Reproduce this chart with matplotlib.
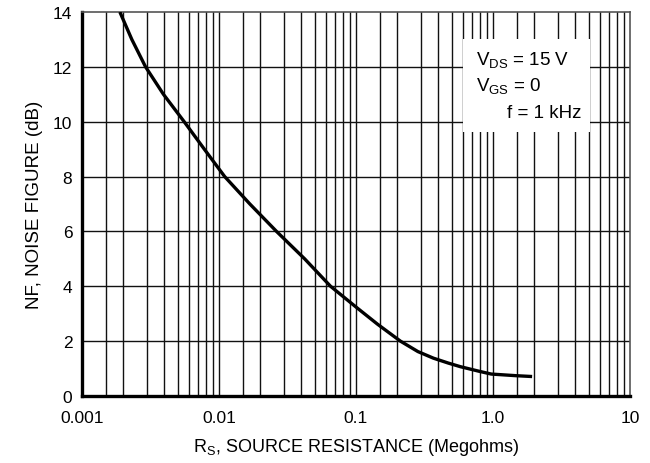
import numpy as np
import matplotlib
matplotlib.use("Agg")
import matplotlib.pyplot as plt
from matplotlib.patches import Rectangle

plt.rcParams['font.family'] = ['Liberation Sans', 'DejaVu Sans']
plt.rcParams['mathtext.fontset'] = 'custom'
plt.rcParams['mathtext.rm'] = 'Liberation Sans'
plt.rcParams['mathtext.it'] = 'Liberation Sans'

# source resistance (Megohms) and noise figure (dB)
rs = [0.00189, 0.00231, 0.00291, 0.00393, 0.00557, 0.00781, 0.0110, 0.0168,
      0.0263, 0.0422, 0.0652, 0.1008, 0.1434, 0.211, 0.283, 0.367, 0.472,
      0.577, 0.794, 0.971, 1.48, 1.93]
nf = [14.0, 13.0, 12.0, 11.0, 10.0, 9.0, 8.0, 7.0,
      6.0, 5.0, 4.0, 3.23, 2.62, 2.0, 1.62, 1.38, 1.20,
      1.07, 0.90, 0.80, 0.74, 0.71]

x_ticks = [0.001, 0.01, 0.1, 1.0, 10]
x_labels = ['0.001', '0.01', '0.1', '1.0', '10']
y_ticks = [0, 2, 4, 6, 8, 10, 12, 14]
grid_steps = [1.5, 2, 3, 4, 5, 6, 7, 8, 9]

fig = plt.figure(figsize=(6.5, 4.64), dpi=100)
ax = fig.add_axes([82 / 650, (464 - 397) / 464, 548 / 650, 384 / 464])

ax.set_xscale('log')
ax.set_xlim(0.001, 10)
ax.set_ylim(0, 14)

# grid: decade lines plus 1.5, 2 ... 9 in each decade, every 2 dB
for dec in [0.001, 0.01, 0.1, 1.0]:
    for k in grid_steps:
        ax.axvline(dec * k, color='#111111', lw=1.0, zorder=1)
    if dec > 0.001:
        ax.axvline(dec, color='#111111', lw=1.0, zorder=1)
for yv in y_ticks[1:-1]:
    ax.axhline(yv, color='#111111', lw=1.0, zorder=1)

# white box behind the conditions text
ax.add_patch(Rectangle((0.695, 0.6875), 0.232, 0.2425, transform=ax.transAxes,
                       facecolor='white', edgecolor='none', zorder=2))
ax.text(0.719, 0.8646, r'V$_{\mathrm{DS}}$ = 15 V', transform=ax.transAxes,
        fontsize=13.5, ha='left', va='baseline', zorder=3)
ax.text(0.719, 0.7956, r'V$_{\mathrm{GS}}$ = 0', transform=ax.transAxes,
        fontsize=13.5, ha='left', va='baseline', zorder=3)
ax.text(0.775, 0.7266, 'f = 1 kHz', transform=ax.transAxes,
        fontsize=13.5, ha='left', va='baseline', zorder=3)

ax.plot(rs, nf, color='black', lw=2.4, zorder=4,
        solid_capstyle='butt', solid_joinstyle='round')

ax.set_xticks(x_ticks)
ax.set_xticklabels(x_labels)
ax.xaxis.set_minor_locator(plt.NullLocator())
ax.set_yticks(y_ticks)
ax.tick_params(axis='both', length=0, labelsize=12.5)
ax.tick_params(axis='x', pad=10)
ax.tick_params(axis='y', pad=7)

ax.spines['left'].set_linewidth(2.4)
ax.spines['bottom'].set_linewidth(2.4)
ax.spines['top'].set_linewidth(1.2)
ax.spines['right'].set_linewidth(1.2)
ax.spines['top'].set_color('#555555')
ax.spines['right'].set_color('#555555')

ax.set_xlabel(r'R$_{\mathrm{S}}$, SOURCE RESISTANCE (Megohms)', fontsize=13, labelpad=8)
ax.set_ylabel('NF, NOISE FIGURE (dB)', fontsize=13.5, labelpad=7)

fig.savefig('out.png', dpi=100)
